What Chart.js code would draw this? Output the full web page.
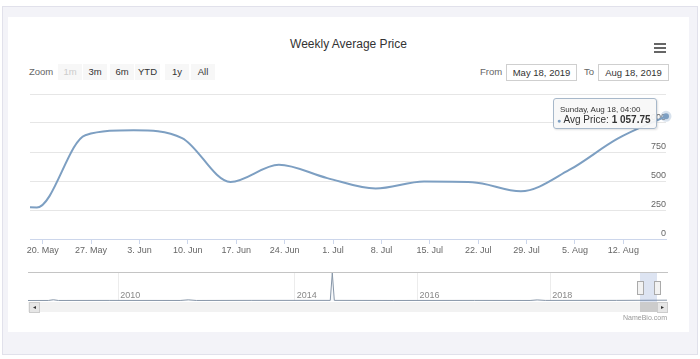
<!DOCTYPE html>
<html>
<head>
<meta charset="utf-8">
<script src="https://cdn.jsdelivr.net/npm/chart.js@4.4.1/dist/chart.umd.min.js"></script>
<style>
  body { margin: 0; width: 700px; height: 359px; background: #fff; position: relative; overflow: hidden;
         font-family: "Liberation Sans", Arial, sans-serif; }
  .abs { position: absolute; }
  .frame { left: 2px; top: 6px; width: 694px; height: 347px; background: #f3f3f8; border: 1px solid #e1e1eb; }
  .card { left: 8px; top: 17px; width: 681px; height: 315px; background: #fff; }
  .title { left: 8px; top: 37px; width: 681px; text-align: center; font-size: 12px; line-height: 14px; color: #333; }
  .lbl { font-size: 9.5px; line-height: 16px; color: #666; top: 64px; }
  .btn { top: 64px; height: 16px; line-height: 16px; font-size: 9.5px; text-align: center; background: #f7f7f7; color: #333; }
  .inp { top: 64px; height: 15px; width: 69px; line-height: 15px; font-size: 9.5px; text-align: center;
         border: 1px solid #cfcfcf; color: #333; background: #fff; }
  .bar { left: 654px; width: 12px; height: 2px; background: #666; }
  .tip { left: 553px; top: 98px; width: 102px; height: 29px; background: rgba(247,247,247,0.92);
         border: 1px solid #a7b8ca; border-radius: 3px; box-shadow: 1px 1px 2px rgba(0,0,0,0.12); color: #333; }
  .handle { top: 281px; width: 5px; height: 12px; background: #f2f2f2; border: 1px solid #aaa; }
</style>
</head>
<body>
<div class="abs frame"></div>
<div class="abs card"></div>
<div class="abs title">Weekly Average Price</div>
<div class="abs bar" style="top:43px"></div>
<div class="abs bar" style="top:47px"></div>
<div class="abs bar" style="top:51px"></div>

<div class="abs lbl" style="left:29px">Zoom</div>
<div class="abs btn" style="left:58px;width:24px;color:#ccc">1m</div>
<div class="abs btn" style="left:83px;width:24px">3m</div>
<div class="abs btn" style="left:110px;width:24px">6m</div>
<div class="abs btn" style="left:135px;width:25px">YTD</div>
<div class="abs btn" style="left:165px;width:24px">1y</div>
<div class="abs btn" style="left:191px;width:24px">All</div>

<div class="abs lbl" style="left:480px">From</div>
<div class="abs inp" style="left:506px">May 18, 2019</div>
<div class="abs lbl" style="left:584px">To</div>
<div class="abs inp" style="left:598px">Aug 18, 2019</div>

<div class="abs" style="left:8px;top:85px;width:681px;height:180px"><canvas id="main"></canvas></div>

<!-- navigator -->
<div class="abs" style="left:8px;top:268px;width:681px;height:50px"><canvas id="nav"></canvas></div>
<div class="abs" style="left:28px;top:272px;width:640px;height:1px;background:#c4c4c4"></div>
<div class="abs" style="left:640px;top:273px;width:17px;height:29px;background:rgba(102,133,194,0.22)"></div>
<div class="abs handle" style="left:637px"></div>
<div class="abs handle" style="left:654px"></div>
<div class="abs" style="left:28px;top:302px;width:640px;height:10px;background:#f2f2f2"></div>
<div class="abs" style="left:640px;top:302px;width:17px;height:10px;background:#cccccc"></div>
<div class="abs" style="left:29px;top:302px;width:9px;height:9px;background:#e6e6e6;border:1px solid #ccc;font-size:6px;line-height:9px;text-align:center;color:#333">&#9666;</div>
<div class="abs" style="left:657px;top:302px;width:9px;height:9px;background:#e6e6e6;border:1px solid #ccc;font-size:6px;line-height:9px;text-align:center;color:#333">&#9656;</div>
<div class="abs" style="left:560px;top:313px;width:107px;text-align:right;font-size:7px;line-height:9px;color:#999">NameBio.com</div>

<div class="abs tip">
  <div style="position:absolute;left:6px;top:6px;font-size:8px;line-height:9px">Sunday, Aug 18, 04:00</div>
  <div style="position:absolute;left:3px;top:15px;font-size:10px;line-height:12px;white-space:nowrap"><span style="color:#7d9fc2;font-size:7px">&#9679;</span> Avg Price: <b>1 057.75</b></div>
</div>

<script>
// Weekly average price, one point each Sunday 04:00
const weekDates = ['2019-05-12T04:00Z', '2019-05-19T04:00Z', '2019-05-26T04:00Z', '2019-06-02T04:00Z',
  '2019-06-09T04:00Z', '2019-06-16T04:00Z', '2019-06-23T04:00Z', '2019-06-30T04:00Z', '2019-07-07T04:00Z',
  '2019-07-14T04:00Z', '2019-07-21T04:00Z', '2019-07-28T04:00Z', '2019-08-04T04:00Z', '2019-08-11T04:00Z',
  '2019-08-18T04:00Z'];
const avgPrice = [290, 272, 895, 938, 870, 492, 640, 525, 435, 495, 490, 412, 595, 865, 1057.75];

// visible range and x ticks
const viewFrom = '2019-05-18T04:00Z';
const viewTo = '2019-08-18T04:00Z';
const tickDates = ['2019-05-20', '2019-05-27', '2019-06-03', '2019-06-10', '2019-06-17', '2019-06-24',
  '2019-07-01', '2019-07-08', '2019-07-15', '2019-07-22', '2019-07-29', '2019-08-05', '2019-08-12'];
const tickLabels = ['20. May', '27. May', '3. Jun', '10. Jun', '17. Jun', '24. Jun', '1. Jul', '8. Jul',
  '15. Jul', '22. Jul', '29. Jul', '5. Aug', '12. Aug'];
const yMax = 1250;
const yStep = 250;

// navigator (ordinal positions, whole history)
const navPos = [0, 2, 2.5, 3, 8, 15, 15.8, 16.6, 22, 29.8, 30, 30.2, 36, 44, 49.5, 50.2, 51, 58, 63];
const navValues = [650, 700, 1600, 700, 750, 700, 1500, 700, 800, 800, 36000, 800, 700, 750, 700, 1400, 750, 800, 1050];
const navTickPos = [8.9, 26.3, 38.4, 51.5];
const navTickLabels = ['2010', '2014', '2016', '2018'];

const lineColor = '#7d9fc2';
const day0 = Date.UTC(2019, 4, 18);
const toDay = s => (Date.parse(s) - day0) / 86400000;

const mainPoints = weekDates.map((d, i) => ({ x: toDay(d), y: avgPrice[i] }));
const lastIdx = mainPoints.length - 1;

new Chart(document.getElementById('main'), {
  type: 'line',
  data: {
    datasets: [{
      data: mainPoints,
      borderColor: lineColor,
      borderWidth: 2,
      cubicInterpolationMode: 'monotone',
      pointRadius: c => c.dataIndex === lastIdx ? 3 : 0,
      pointBackgroundColor: lineColor,
      pointBorderColor: 'rgba(125,159,194,0.3)',
      pointBorderWidth: 5,
      clip: { left: 0, top: 20, right: 20, bottom: 0 }
    }]
  },
  options: {
    responsive: true,
    maintainAspectRatio: false,
    animation: false,
    events: [],
    layout: { padding: { left: 22, right: 23, top: 4, bottom: 0 } },
    plugins: { legend: { display: false }, tooltip: { enabled: false } },
    scales: {
      x: {
        type: 'linear',
        min: toDay(viewFrom),
        max: toDay(viewTo),
        bounds: 'data',
        afterBuildTicks: axis => { axis.ticks = tickDates.map(d => ({ value: toDay(d) })); },
        afterFit: axis => { axis.height = 26; },
        grid: { drawOnChartArea: false, drawTicks: true, tickLength: 5, color: '#ccd6eb' },
        border: { display: true, color: '#ccd6eb' },
        ticks: {
          autoSkip: false, maxRotation: 0, padding: 1,
          color: '#666', font: { family: 'Liberation Sans', size: 9 },
          callback: (v, i) => tickLabels[i]
        }
      },
      y: {
        position: 'right',
        min: 0,
        max: yMax,
        afterFit: axis => { axis.width = 0; },
        grid: { color: '#e6e6e6', drawTicks: false },
        border: { display: false },
        ticks: {
          stepSize: yStep, mirror: true, padding: 0, labelOffset: -5,
          color: '#666', font: { family: 'Liberation Sans', size: 9 },
          callback: v => v === yMax ? '' : v
        }
      }
    }
  }
});

new Chart(document.getElementById('nav'), {
  type: 'line',
  data: {
    datasets: [{
      data: navPos.map((p, i) => ({ x: p, y: navValues[i] })),
      borderColor: '#8796a8',
      borderWidth: 1,
      fill: 'origin',
      backgroundColor: 'rgba(125,159,194,0.06)',
      pointRadius: 0,
      tension: 0
    }]
  },
  options: {
    responsive: true,
    maintainAspectRatio: false,
    animation: false,
    events: [],
    layout: { padding: { left: 20, right: 22, top: 5, bottom: 0 } },
    plugins: { legend: { display: false }, tooltip: { enabled: false } },
    scales: {
      x: {
        type: 'linear',
        min: navPos[0],
        max: navPos[navPos.length - 1],
        bounds: 'data',
        afterBuildTicks: axis => { axis.ticks = navTickPos.map(v => ({ value: v })); },
        afterFit: axis => { axis.height = 17; },
        grid: { color: '#ececec', drawTicks: false },
        border: { display: false },
        ticks: {
          autoSkip: false, maxRotation: 0, padding: 0, align: 'start', labelOffset: 2, mirror: true,
          color: '#888', font: { family: 'Liberation Sans', size: 9 },
          callback: (v, i) => navTickLabels[i]
        }
      },
      y: { display: false, min: 0, max: Math.max(...navValues) }
    }
  }
});
</script>
</body>
</html>
